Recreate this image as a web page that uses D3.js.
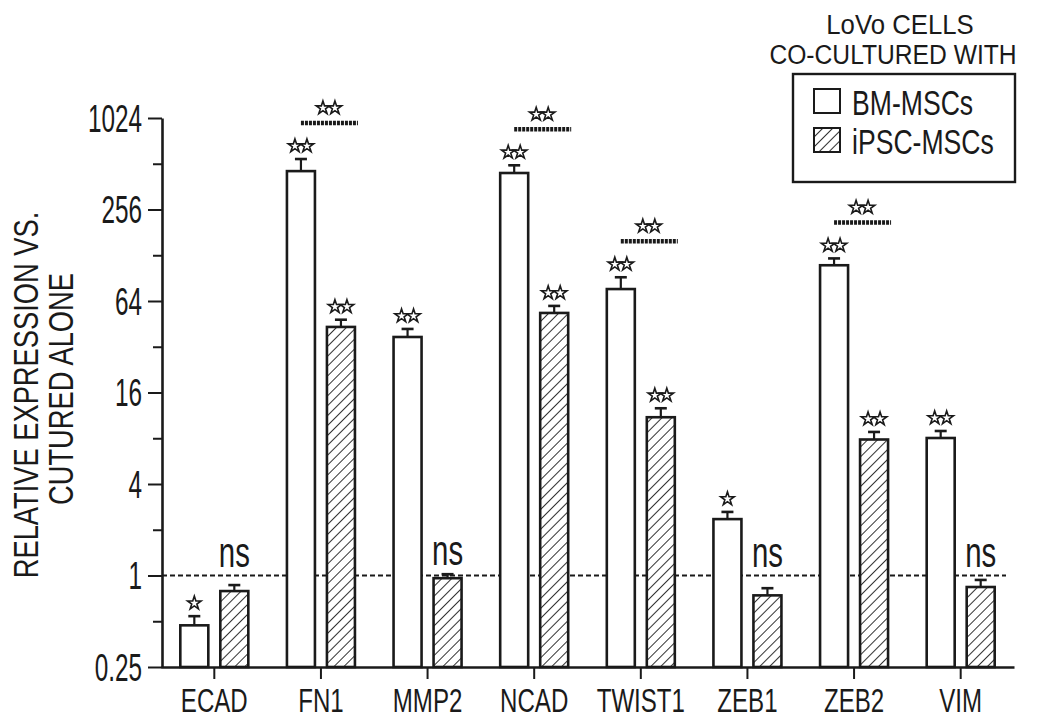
<!DOCTYPE html>
<html>
<head>
<meta charset="utf-8">
<script src="https://cdn.jsdelivr.net/npm/d3@7"></script>
<style>
  body { margin: 0; background: #fff; }
  svg text { font-family: "Liberation Sans", Arial, sans-serif; fill: #1a1a1a; }
</style>
</head>
<body>
<svg id="chart" width="1040" height="723"></svg>
<script>
// gene categories and the two co-culture groups
var genes = ["ECAD", "FN1", "MMP2", "NCAD", "TWIST1", "ZEB1", "ZEB2", "VIM"];
var groups = ["BM-MSCs", "iPSC-MSCs"];

// relative expression (mean) and error (SE)
var bm_mean   = [0.47, 458, 37.1, 445, 76.7, 2.35, 110, 8.03];
var bm_err    = [0.07, 92, 4.8, 55, 15, 0.27, 12, 0.9];
var ipsc_mean = [0.79, 43.2, 0.96, 53.4, 11.0, 0.74, 7.85, 0.84];
var ipsc_err  = [0.075, 5, 0.06, 6, 1.6, 0.085, 0.95, 0.095];

// significance marks
var bm_sig   = ["*", "**", "**", "**", "**", "*", "**", "**"];
var ipsc_sig = ["ns", "**", "ns", "**", "**", "ns", "**", "ns"];
var pair_sig = ["", "**", "", "**", "**", "", "**", ""];

// y axis ticks
var y_ticks = [0.25, 1, 4, 16, 64, 256, 1024];
var y_minor = [0.5, 2, 8, 32, 128, 512];
var y_ref = 1;

var legend_title = ["LoVo CELLS", "CO-CULTURED WITH"];
var y_label = ["RELATIVE EXPRESSION VS.", "CUTURED ALONE"];

var ink = "#1a1a1a";

var svg = d3.select("#chart");

var defs = svg.append("defs");
var hatch = defs.append("pattern").attr("id", "hatch")
   .attr("patternUnits", "userSpaceOnUse").attr("width", 7).attr("height", 7)
   .attr("patternTransform", "rotate(45)");
hatch.append("rect").attr("width", 7).attr("height", 7).attr("fill", "#fff");
hatch.append("line").attr("x1", 0).attr("y1", 0).attr("x2", 0).attr("y2", 7)
   .attr("stroke", ink).attr("stroke-width", 1.8);

var y = d3.scaleLog().base(2).domain([0.25, 1024]).range([667, 118]);
var x = d3.scaleBand().domain(genes).range([161, 1014]);
var x1 = d3.scaleBand().domain(groups).range([-34, 34]).paddingInner(0.3);

// condensed lettering like the original figure
function condensed(sel, px, sx, tx, ty, anchor) {
   sel.attr("x", 0).attr("y", 0).attr("dy", null)
      .style("font-size", px + "px")
      .attr("text-anchor", anchor)
      .attr("transform", "translate(" + tx + "," + ty + ") scale(" + sx + ",1)");
}

// dashed reference line at 1
svg.append("line")
   .attr("x1", 162).attr("x2", 1006)
   .attr("y1", y(y_ref)).attr("y2", y(y_ref))
   .attr("stroke", ink).attr("stroke-width", 2).attr("stroke-dasharray", "5 3");

// bars
var rows = genes.map(function(g, i) {
   return [
      { gene: g, grp: groups[0], mean: bm_mean[i], err: bm_err[i], sig: bm_sig[i] },
      { gene: g, grp: groups[1], mean: ipsc_mean[i], err: ipsc_err[i], sig: ipsc_sig[i] }
   ];
});
var flat = [].concat.apply([], rows);

function bx(d) { return x(d.gene) + x.bandwidth() / 2 + x1(d.grp); }
function cx(d) { return bx(d) + x1.bandwidth() / 2; }

svg.append("g").selectAll("rect.bar").data(flat).enter().append("rect")
   .attr("class", "bar")
   .attr("x", bx).attr("width", x1.bandwidth())
   .attr("y", function(d) { return y(d.mean); })
   .attr("height", function(d) { return y(0.25) - y(d.mean); })
   .attr("fill", function(d) { return d.grp == groups[0] ? "#fff" : "url(#hatch)"; })
   .attr("stroke", ink).attr("stroke-width", 2.6);

// error bars
var eb = svg.append("g").selectAll("g.err").data(flat).enter().append("g").attr("class", "err");
eb.append("line")
   .attr("x1", cx).attr("x2", cx)
   .attr("y1", function(d) { return y(d.mean); })
   .attr("y2", function(d) { return y(d.mean + d.err); })
   .attr("stroke", ink).attr("stroke-width", 2.2);
eb.append("line")
   .attr("x1", function(d) { return cx(d) - 6; }).attr("x2", function(d) { return cx(d) + 6; })
   .attr("y1", function(d) { return y(d.mean + d.err); })
   .attr("y2", function(d) { return y(d.mean + d.err); })
   .attr("stroke", ink).attr("stroke-width", 2.6);

// star marks
var star = d3.symbol().type(d3.symbolStar).size(56);
function stars(g, n, px, py) {
   for (var k = 0; k < n; k++) {
      var ox = (k - (n - 1) / 2) * 12;
      g.append("path").attr("d", star)
         .attr("transform", "translate(" + (px + ox) + "," + py + ")")
         .attr("fill", "#fff").attr("stroke", ink).attr("stroke-width", 1.6);
   }
}

var marks = svg.append("g");
flat.forEach(function(d) {
   var top = y(d.mean + d.err);
   if (d.sig == "ns") {
      marks.append("text").text("ns")
         .call(condensed, 42, 0.7, cx(d), Math.min(top, y(y_ref)) - 9, "middle");
   } else {
      stars(marks, d.sig.length, cx(d), top - 13);
   }
});

// pair brackets
genes.forEach(function(g, i) {
   if (!pair_sig[i]) return;
   var c = x(g) + x.bandwidth() / 2;
   var by = y(bm_mean[i] + bm_err[i]) - 36;
   marks.append("line")
      .attr("x1", c - 20).attr("x2", c + 37)
      .attr("y1", by).attr("y2", by)
      .attr("stroke", ink).attr("stroke-width", 4.5).attr("stroke-dasharray", "3 1");
   stars(marks, pair_sig[i].length, c + 8, by - 15);
});

// y axis
var yAxis = svg.append("g").attr("transform", "translate(162,0)")
   .call(d3.axisLeft(y).tickValues(y_ticks).tickFormat(function(d) { return d; })
      .tickSize(14).tickSizeOuter(0));
yAxis.select(".domain").attr("stroke", ink).attr("stroke-width", 2.6);
yAxis.selectAll(".tick line").attr("stroke", ink).attr("stroke-width", 2);
yAxis.selectAll(".tick text").each(function() {
   d3.select(this).call(condensed, 38, 0.64, -20, 13, "end");
});
var yMinor = svg.append("g").attr("transform", "translate(162,0)")
   .call(d3.axisLeft(y).tickValues(y_minor).tickFormat("").tickSize(9).tickSizeOuter(0));
yMinor.select(".domain").remove();
yMinor.selectAll(".tick line").attr("stroke", ink).attr("stroke-width", 2);

// x axis
var xAxis = svg.append("g").attr("transform", "translate(0," + y(0.25) + ")")
   .call(d3.axisBottom(x).tickSize(12).tickSizeOuter(0));
xAxis.select(".domain").attr("stroke", ink).attr("stroke-width", 2.6);
xAxis.selectAll(".tick line").attr("stroke", ink).attr("stroke-width", 2);
xAxis.selectAll(".tick text").each(function() {
   d3.select(this).call(condensed, 33, 0.73, 0, 45, "middle");
});
svg.selectAll(".tick text").attr("fill", ink);

// y axis title
svg.append("text").text(y_label[0])
   .style("font-size", "35px").attr("text-anchor", "middle")
   .attr("transform", "translate(38,395) rotate(-90) scale(0.78,1)");
svg.append("text").text(y_label[1])
   .style("font-size", "35px").attr("text-anchor", "middle")
   .attr("transform", "translate(73,389) rotate(-90) scale(0.78,1)");

// legend
var lg = svg.append("g");
lg.append("text").text(legend_title[0]).call(condensed, 28, 0.92, 900, 34, "middle");
lg.append("text").text(legend_title[1]).call(condensed, 28, 0.88, 893, 64, "middle");
lg.append("rect").attr("x", 793).attr("y", 74).attr("width", 222).attr("height", 108)
   .attr("fill", "none").attr("stroke", ink).attr("stroke-width", 2.4);
groups.forEach(function(g, i) {
   lg.append("rect").attr("x", 814).attr("y", 89 + i * 39).attr("width", 26).attr("height", 24)
      .attr("fill", i == 0 ? "#fff" : "url(#hatch)")
      .attr("stroke", ink).attr("stroke-width", 2);
   lg.append("text").text(g).call(condensed, 35, 0.76, 852, 115 + i * 39, "start");
});
</script>
</body>
</html>
